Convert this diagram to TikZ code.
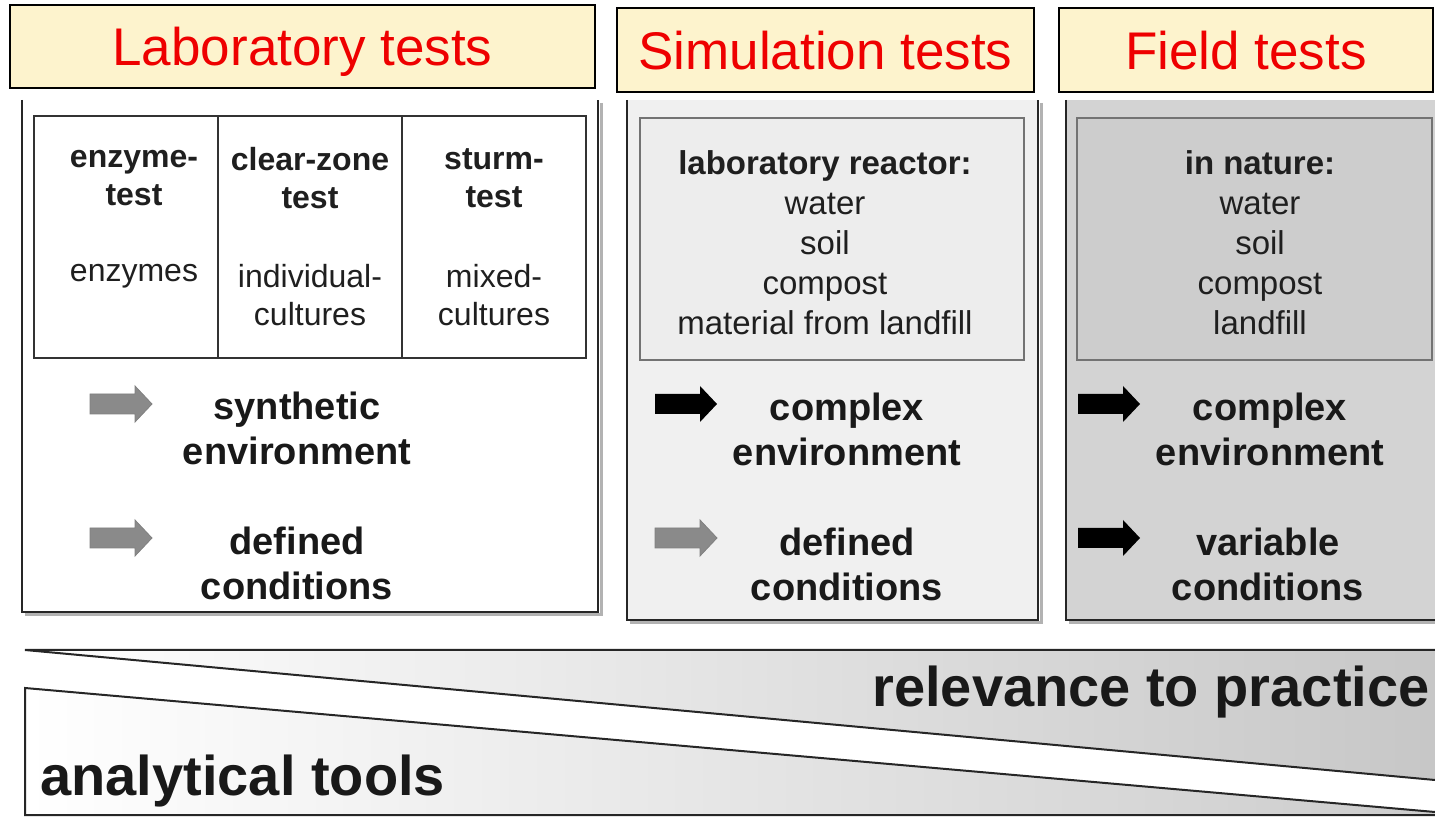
\documentclass[tikz,border=0pt]{standalone}
\usepackage{fontspec}
\setmainfont{Liberation Sans}
\usetikzlibrary{positioning}

\definecolor{headfill}{HTML}{FDF3CD}
\definecolor{headred}{HTML}{EE0000}
\definecolor{simfill}{HTML}{F0F0F0}
\definecolor{siminner}{HTML}{EDEDED}
\definecolor{fieldfill}{HTML}{D3D3D3}
\definecolor{fieldinner}{HTML}{CDCDCD}
\definecolor{arrgray}{HTML}{8A8A8A}

\begin{document}
\begin{tikzpicture}[
  x=0.5pt, y=-0.5pt,
  header/.style={draw=black, line width=0.9pt, fill=headfill, text=headred,
    font=\fontsize{26.5}{30}\selectfont, text height=19.5pt, text depth=0pt, inner sep=0pt},
  panel/.style={draw=black!85, line width=1.3pt},
  pshadow/.style={draw=black!30, line width=1.5pt},
  grid/.style={draw=black!80, line width=1pt},
  innerbox/.style={draw=black!55, line width=1pt},
  cell/.style={align=center, text=black!88, font=\fontsize{16}{19}\selectfont},
  cellhead/.style={cell, font=\fontsize{16}{19}\selectfont\bfseries},
  medium/.style={align=center, text=black!88, font=\fontsize{16.5}{20}\selectfont},
  keyword/.style={align=center, text=black!90, font=\fontsize{19}{22.5}\selectfont\bfseries},
  big/.style={text=black!90, font=\fontsize{28}{32}\selectfont\bfseries, inner sep=0pt},
  wedge/.style={draw=black!85, line width=1pt},
  barrow/.pic={\path[pic actions] (0,-10) -- (45,-10) -- (45,-18) -- (62,0)
    -- (45,18) -- (45,10) -- (0,10) -- cycle;}
]
\useasboundingbox (0,0) rectangle (1435,817);

% headers
\node[header, minimum width=292.5pt, minimum height=41.5pt] (labhead) at (302.5,46.5) {Laboratory tests};
\node[header, minimum width=208.5pt, minimum height=42pt] (simhead) at (825.5,50) {Simulation tests};
\node[header, minimum width=187pt, minimum height=42pt] (fieldhead) at (1246,50) {Field tests};

% laboratory panel
\draw[pshadow] (601,103) -- (601,615) -- (25,615);
\draw[panel] (22,100) -- (22,612) -- (598,612) -- (598,100);
\draw[grid] (34,116) rectangle (586,358);
\draw[grid] (218,116) -- (218,358);
\draw[grid] (402,116) -- (402,358);
\node[cellhead] (enzhead) at (134,178) {enzyme-\\test};
\node[cellhead] (clearhead) at (310,178) {clear-zone\\test};
\node[cellhead] (sturmhead) at (494,178) {sturm-\\test};
\node[cell] (enzbody) at (134,276) {enzymes};
\node[cell] (clearbody) at (310,295) {individual-\\cultures};
\node[cell] (sturmbody) at (494,295) {mixed-\\cultures};

\pic[fill=arrgray, draw=black!50, line width=0.4pt] at (90,404) {barrow};
\pic[fill=arrgray, draw=black!50, line width=0.4pt] at (90,538) {barrow};
\node[keyword] (labenv) at (297,428) {synthetic\\environment};
\node[keyword] (labcond) at (297,563) {defined\\conditions};

% simulation panel
\path[fill=simfill] (627,100) rectangle (1038,620);
\draw[pshadow] (1041,103) -- (1041,623) -- (630,623);
\draw[panel] (627,100) -- (627,620) -- (1038,620) -- (1038,100);
\draw[innerbox, fill=siminner] (640,118) rectangle (1024,360);
\node[medium] (simlist) at (825,243) {\textbf{laboratory reactor:}\\water\\soil\\compost\\material from landfill};

\pic[fill=black] at (655,404) {barrow};
\pic[fill=arrgray, draw=black!50, line width=0.4pt] at (655,538) {barrow};
\node[keyword] (simenv) at (847,429) {complex\\environment};
\node[keyword] (simcond) at (847,564) {defined\\conditions};

% field panel
\path[fill=fieldfill] (1066,100) rectangle (1435,620);
\draw[pshadow] (1069,623) -- (1435,623);
\draw[panel] (1066,100) -- (1066,620) -- (1435,620);
\draw[innerbox, fill=fieldinner] (1077,118) rectangle (1432,360);
\node[medium] (fieldlist) at (1260,243) {\textbf{in nature:}\\water\\soil\\compost\\landfill};

\pic[fill=black] at (1078,404) {barrow};
\pic[fill=black] at (1078,538) {barrow};
\node[keyword] (fieldenv) at (1270,429) {complex\\environment};
\node[keyword] (fieldcond) at (1268,564) {variable\\conditions};

% wedges
\shade[left color=white, right color=black!22] (25,650) -- (1435,650) -- (1435,780) -- cycle;
\shade[left color=white, right color=black!20] (25,688) -- (1435,812) -- (1435,815) -- (25,815) -- cycle;
\draw[wedge] (1435,650) -- (25,650) -- (1435,780);
\draw[wedge] (1435,812) -- (25,688) -- (25,815) -- (1435,815);
\node[big, anchor=base east] (practice) at (1430,706) {relevance to practice};
\node[big, anchor=base west] (tools) at (40,795) {analytical tools};
\end{tikzpicture}
\end{document}
